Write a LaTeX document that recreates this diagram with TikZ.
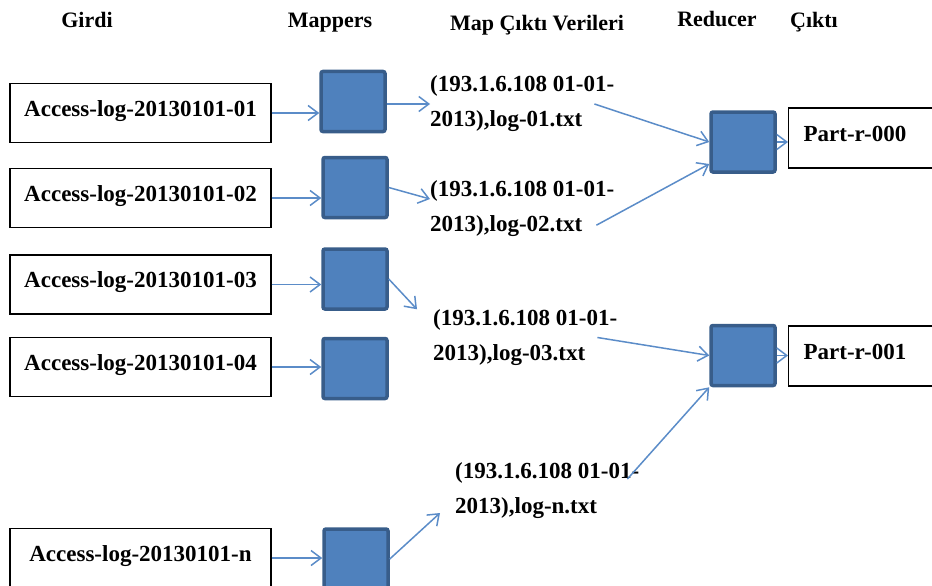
\documentclass[tikz,border=0pt]{standalone}
\usepackage{fontspec}
\setmainfont{Liberation Serif}
\usetikzlibrary{shapes,arrows.meta,positioning,calc}

\definecolor{mapblue}{HTML}{4F81BD}
\definecolor{mapedge}{HTML}{385D8A}
\definecolor{linkblue}{HTML}{5B8CC8}

\begin{document}
\begin{tikzpicture}[
    x=1pt, y=-1pt,
    header/.style={font=\fontsize{22}{26}\selectfont\bfseries, anchor=base},
    infile/.style={rectangle, draw, line width=1.3pt, minimum width=261pt, minimum height=59pt, font=\fontsize{23}{28}\selectfont\bfseries, text height=16pt, text depth=10pt},
    task/.style={rectangle, draw=mapedge, fill=mapblue, line width=3.5pt, rounded corners=2pt, minimum width=64pt, minimum height=60pt},
    pair/.style={align=left, inner sep=0pt, anchor=west, font=\fontsize{23}{35}\selectfont\bfseries},
    outfile/.style={rectangle, draw, line width=1.3pt, anchor=west, minimum height=60pt, text width=180pt, inner xsep=15pt, align=left, font=\fontsize{23}{28}\selectfont\bfseries, text height=16pt, text depth=10pt},
    arrow/.style={-{Straight Barb[length=10pt, width=15pt]}, draw=linkblue, line width=1.5pt}
]
\useasboundingbox (0,0) rectangle (932,586);

% Headers
\node[header] (hInput) at (87,28) {Girdi};
\node[header] (hMapper) at (330,28) {Mappers};
\node[header] (hMapOut) at (537,31) {Map Çıktı Verileri};
\node[header] (hReducer) at (717,27) {Reducer};
\node[header] (hOutput) at (814,28) {Çıktı};

% Inputs
\node[infile] (input1) at (140.5,113) {Access-log-20130101-01};
\node[infile] (input2) at (140.5,198) {Access-log-20130101-02};
\node[infile] (input3) at (140.5,284.5) {Access-log-20130101-03};
\node[infile] (input4) at (140.5,367) {Access-log-20130101-04};
\node[infile] (input5) at (140.5,558) {Access-log-20130101-n};

% Mappers
\node[task] (mapper1) at (353,101.5) {};
\node[task] (mapper2) at (355,187.5) {};
\node[task] (mapper3) at (355,279) {};
\node[task] (mapper4) at (355,368.5) {};
\node[task] (mapper5) at (356,559) {};

% Map outputs
\node[pair] (mapOut1) at (430,104) {(193.1.6.108 01-01-\\2013),log-01.txt};
\node[pair] (mapOut2) at (430,209) {(193.1.6.108 01-01-\\2013),log-02.txt};
\node[pair] (mapOut3) at (433,337.5) {(193.1.6.108 01-01-\\2013),log-03.txt};
\node[pair] (mapOut4) at (455,491) {(193.1.6.108 01-01-\\2013),log-n.txt};

% Reducers and outputs
\node[task] (reducer1) at (743,142) {};
\node[task] (reducer2) at (743,355.5) {};
\node[outfile] (part1) at (788,138) {Part-r-000};
\node[outfile] (part2) at (788,356) {Part-r-001};

% Arrows
\foreach \i in {1,...,5}
    \draw[arrow] (input\i.east) -- (input\i.east -| mapper\i.west);
\draw[arrow] (mapper1.east |- mapOut1.west) -- (mapOut1.west);
\draw[arrow] (mapper2.east) -- ([yshift=10pt]mapOut2.west);
\draw[arrow] (mapper3.east) -- ([xshift=-16pt]mapOut3.north west);
\draw[arrow] (mapper5.east) -- ([xshift=-15pt,yshift=-22pt]mapOut4.west);
\draw[arrow] ([xshift=-20pt]mapOut1.east) -- (reducer1.west);
\draw[arrow] ([xshift=-18pt,yshift=12pt]mapOut2.south east) -- ([yshift=-22pt]reducer1.west);
\draw[arrow] ([xshift=-20pt]mapOut3.east) -- (reducer2.west);
\draw[arrow] ([xshift=-12pt,yshift=12pt]mapOut4.east) -- (reducer2.south west);
\draw[arrow] (reducer1.east) -- (reducer1.east -| part1.west);
\draw[arrow] (reducer2.east) -- (reducer2.east -| part2.west);

\end{tikzpicture}
\end{document}
